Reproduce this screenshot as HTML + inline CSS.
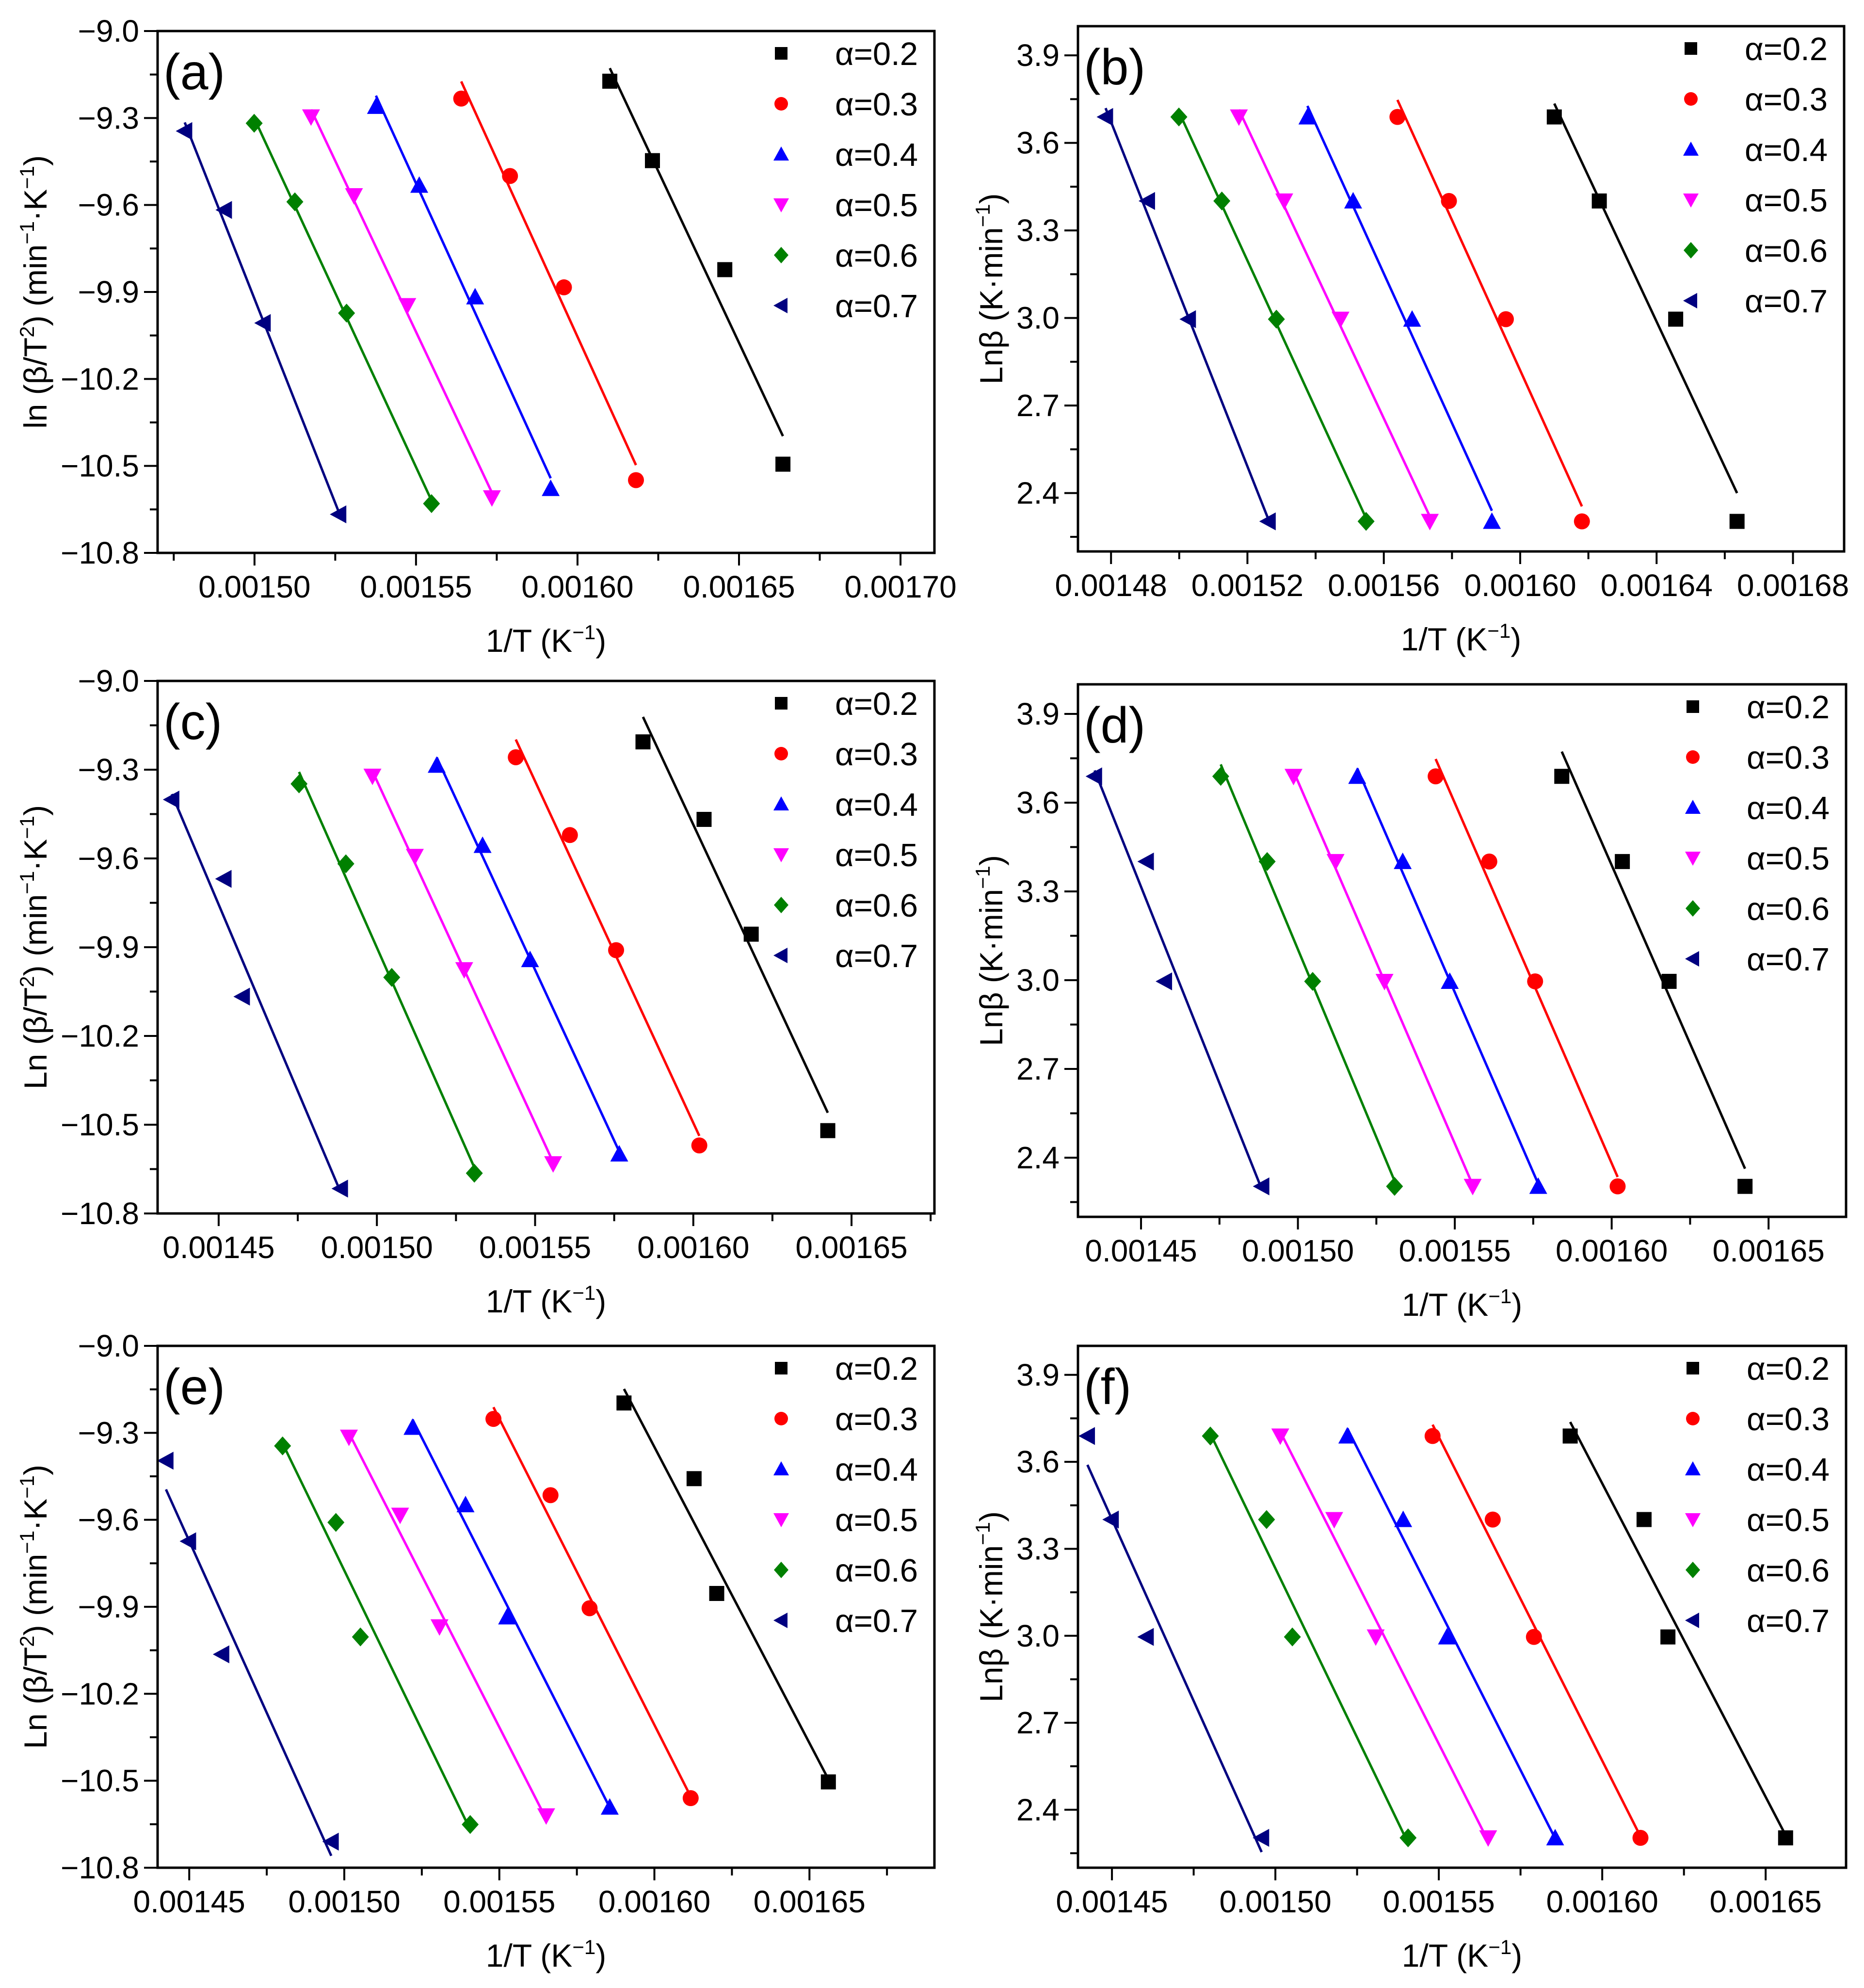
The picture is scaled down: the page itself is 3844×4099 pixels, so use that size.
<!DOCTYPE html>
<html><head><meta charset="utf-8"><title>Kinetic plots</title>
<style>
html,body{margin:0;padding:0;background:#fff;}
svg{display:block;font-family:"Liberation Sans",Arial,sans-serif;}
</style></head>
<body>
<svg id="fig" xmlns="http://www.w3.org/2000/svg" width="3844" height="4099" viewBox="0 0 3844 4099"></svg>
<script>
// ---------- data ----------
const seriesLabels = ["α=0.2","α=0.3","α=0.4","α=0.5","α=0.6","α=0.7"];
const lnBeta = [3.689, 3.401, 2.996, 2.303];
const xRow1 = [
 [0.0016100,0.0016232,0.0016456,0.0016636],
 [0.0015640,0.0015791,0.0015958,0.0016181],
 [0.0015376,0.0015510,0.0015683,0.0015917],
 [0.0015175,0.0015308,0.0015473,0.0015735],
 [0.0014999,0.0015125,0.0015285,0.0015548],
 [0.0014784,0.0014907,0.0015027,0.0015261]
];
const yPanelA = [
 [-9.173,-9.447,-9.823,-10.494],
 [-9.233,-9.500,-9.884,-10.549],
 [-9.260,-9.532,-9.917,-10.578],
 [-9.296,-9.568,-9.947,-10.610],
 [-9.318,-9.589,-9.973,-10.630],
 [-9.345,-9.617,-10.007,-10.667]
];
const xRow2 = [
 [0.0015841,0.0016034,0.0016183,0.0016425],
 [0.0015439,0.0015610,0.0015756,0.0016019],
 [0.0015189,0.0015334,0.0015484,0.0015766],
 [0.0014986,0.0015120,0.0015276,0.0015557],
 [0.0014754,0.0014902,0.0015047,0.0015308],
 [0.0014352,0.0014517,0.0014575,0.0014885]
];
const yPanelC = [
 [-9.206,-9.468,-9.856,-10.520],
 [-9.258,-9.521,-9.910,-10.570],
 [-9.285,-9.556,-9.942,-10.599],
 [-9.322,-9.593,-9.976,-10.632],
 [-9.348,-9.618,-10.002,-10.664],
 [-9.401,-9.669,-10.067,-10.716]
];
const xRow3 = [
 [0.0015902,0.0016128,0.0016201,0.0016561],
 [0.0015481,0.0015665,0.0015791,0.0016117],
 [0.0015220,0.0015391,0.0015525,0.0015856],
 [0.0015015,0.0015180,0.0015307,0.0015651],
 [0.0014801,0.0014973,0.0015052,0.0015406],
 [0.0014425,0.0014498,0.0014605,0.0014958]
];
const yPanelE = [
 [-9.197,-9.458,-9.854,-10.504],
 [-9.252,-9.515,-9.905,-10.560],
 [-9.281,-9.548,-9.935,-10.591],
 [-9.315,-9.584,-9.969,-10.621],
 [-9.345,-9.609,-10.004,-10.651],
 [-9.396,-9.674,-10.064,-10.710]
];
const yTicksLn = [-9.0,-9.3,-9.6,-9.9,-10.2,-10.5,-10.8];
const yTicksBeta = [2.4,2.7,3.0,3.3,3.6,3.9];
const xTicksA = [0.0015,0.00155,0.0016,0.00165,0.0017];
const xTicksB = [0.00148,0.00152,0.00156,0.0016,0.00164,0.00168];
const xTicksCDEF = [0.00145,0.0015,0.00155,0.0016,0.00165];

// ---------- style ----------
const colors = ["#000000","#ff0000","#0000ff","#ff00ff","#008000","#000080"];
const shapes = ["square","circle","up","down","diamond","left"];
const NS = "http://www.w3.org/2000/svg";
const svg = document.getElementById("fig");

function mk(tag, attrs, parent){
  const e = document.createElementNS(NS, tag);
  for (const k in attrs) e.setAttribute(k, attrs[k]);
  (parent||svg).appendChild(e);
  return e;
}

const panels = [
 {id:"a",L:325,R:1927,T:64,B:1140,x0:0.001470,x1:0.0017105,y0:-10.8,y1:-9.0,xt:xTicksA,xminor:2.5e-5,yt:yTicksLn,xs:xRow1,ys:yPanelA,yl:"ln",kind:"ln",ytitleOff:251},
 {id:"b",L:2223,R:3803,T:54,B:1137,x0:0.0014703,x1:0.001695,y0:2.2,y1:4.0,xt:xTicksB,xminor:2e-5,yt:yTicksBeta,xs:xRow1,ys:null,kind:"beta",ytitleOff:178},
 {id:"c",L:325,R:1927,T:1404,B:2502,x0:0.0014307,x1:0.0016762,y0:-10.8,y1:-9.0,xt:xTicksCDEF,xminor:2.5e-5,yt:yTicksLn,xs:xRow2,ys:yPanelC,yl:"Ln",kind:"ln",ytitleOff:251},
 {id:"d",L:2223,R:3807,T:1411,B:2509,x0:0.0014299,x1:0.0016747,y0:2.2,y1:4.0,xt:xTicksCDEF,xminor:2.5e-5,yt:yTicksBeta,xs:xRow2,ys:null,kind:"beta",ytitleOff:178},
 {id:"e",L:325,R:1927,T:2775,B:3851,x0:0.0014398,x1:0.0016903,y0:-10.8,y1:-9.0,xt:xTicksCDEF,xminor:2.5e-5,yt:yTicksLn,xs:xRow3,ys:yPanelE,yl:"Ln",kind:"ln",ytitleOff:251},
 {id:"f",L:2223,R:3807,T:2775,B:3851,x0:0.0014396,x1:0.0016746,y0:2.2,y1:4.0,xt:xTicksCDEF,xminor:2.5e-5,yt:yTicksBeta,xs:xRow3,ys:null,kind:"beta",ytitleOff:178}
];

function marker(g, shape, cx, cy, s, color){
  const h = s/2;
  let e;
  if (shape==="square") e = mk("rect",{x:cx-h,y:cy-h,width:s,height:s,fill:color},g);
  else if (shape==="circle") e = mk("circle",{cx:cx,cy:cy,r:h+1,fill:color},g);
  else if (shape==="up") e = mk("polygon",{points:`${cx},${cy-h-3} ${cx-h-3},${cy+h} ${cx+h+3},${cy+h}`,fill:color},g);
  else if (shape==="down") e = mk("polygon",{points:`${cx},${cy+h+3} ${cx-h-3},${cy-h} ${cx+h+3},${cy-h}`,fill:color},g);
  else if (shape==="diamond") e = mk("polygon",{points:`${cx},${cy-h-4} ${cx+h+2},${cy} ${cx},${cy+h+4} ${cx-h-2},${cy}`,fill:color},g);
  else e = mk("polygon",{points:`${cx-h-3},${cy} ${cx+h},${cy-h-3} ${cx+h},${cy+h+3}`,fill:color},g);
  return e;
}

function fmtY(v, kind){
  const s = kind==="ln" ? Math.abs(v).toFixed(1) : v.toFixed(1);
  return v<0 ? "\u2212"+s : s;
}

panels.forEach(p=>{
  const g = mk("g",{});
  
  
  const sx = v => p.L + (v-p.x0)/(p.x1-p.x0)*(p.R-p.L);
  const sy = v => p.B - (v-p.y0)/(p.y1-p.y0)*(p.B-p.T);

  const yMinor = 0.15;
  for (let v = Math.ceil(p.y0/yMinor-1e-6)*yMinor; v <= p.y1+1e-9; v += yMinor){
    const y = sy(v);
    const major = p.yt.some(t=>Math.abs(t-v)<1e-6);
    const t = mk("line",{x1:p.L-(major?28:16),x2:p.L,y1:y,y2:y,stroke:"#000","stroke-width":4},g);
    
    
  }
  p.yt.forEach(v=>{
    const t = mk("text",{x:p.L-38,y:sy(v)+22,"font-size":64,"text-anchor":"end",fill:"#000"},g);
    t.textContent = fmtY(v,p.kind);
    
    
  });
  for (let v = Math.ceil(p.x0/p.xminor-1e-6)*p.xminor; v <= p.x1+1e-12; v += p.xminor){
    const x = sx(v);
    const major = p.xt.some(t=>Math.abs(t-v)<1e-9);
    const t = mk("line",{x1:x,x2:x,y1:p.B,y2:p.B+(major?26:16),stroke:"#000","stroke-width":4},g);
    
    
  }
  p.xt.forEach(v=>{
    const t = mk("text",{x:sx(v),y:p.B+92,"font-size":64,"text-anchor":"middle",fill:"#000"},g);
    t.textContent = v.toFixed(5);
    
    
  });
  const xt = mk("text",{x:(p.L+p.R)/2,y:p.B+204,"font-size":66,"text-anchor":"middle",fill:"#000"},g);
  xt.innerHTML = '1/T (K<tspan dy="-26" font-size="42">\u22121</tspan><tspan dy="26">)</tspan>';
  
  
  const cx = p.L - p.ytitleOff, cy = (p.T+p.B)/2;
  const yt = mk("text",{x:cx,y:cy,"font-size":66,"text-anchor":"middle",fill:"#000",transform:`rotate(-90 ${cx} ${cy}) translate(0 22)`},g);
  if (p.kind==="ln") yt.innerHTML = p.yl+' (\u03b2/T<tspan dy="-26" font-size="42">2</tspan><tspan dy="26">) (min</tspan><tspan dy="-26" font-size="42">\u22121</tspan><tspan dy="26">\u00b7K</tspan><tspan dy="-26" font-size="42">\u22121</tspan><tspan dy="26">)</tspan>';
  else yt.innerHTML = 'Ln\u03b2 (K\u00b7min<tspan dy="-26" font-size="42">\u22121</tspan><tspan dy="26">)</tspan>';
  
  

  p.xs.forEach((xsArr, i)=>{
    const ysArr = p.ys ? p.ys[i] : lnBeta;
    const sg = mk("g",{},g);
    
    
    const n = xsArr.length;
    let mx=0,my=0; for(let k=0;k<n;k++){mx+=xsArr[k];my+=ysArr[k];} mx/=n; my/=n;
    let num=0,den=0; for(let k=0;k<n;k++){num+=(xsArr[k]-mx)*(ysArr[k]-my);den+=(xsArr[k]-mx)**2;}
    const slope=num/den, icpt=my-slope*mx;
    const xa=Math.min(...xsArr), xb=Math.max(...xsArr);
    const ln = mk("line",{x1:sx(xa),y1:sy(slope*xa+icpt),x2:sx(xb),y2:sy(slope*xb+icpt),stroke:colors[i],"stroke-width":5},sg);
    
    
    for(let k=0;k<n;k++){
      const m = marker(sg, shapes[i], sx(xsArr[k]), sy(ysArr[k]), 31, colors[i]);
      
      
    }
  });

  const fr = mk("rect",{x:p.L,y:p.T,width:p.R-p.L,height:p.B-p.T,fill:"none",stroke:"#000","stroke-width":5},g);
  
  

  const pl = mk("text",{x:p.L+12,y:p.T+120,"font-size":104,fill:"#000"},g);
  pl.textContent = "("+p.id+")";
  
  

  const lg = mk("g",{},g);
  
  
  seriesLabels.forEach((lab,i)=>{
    const yy = p.T + 46 + i*104;
    const eg = mk("g",{},lg);
    
    
    marker(eg, shapes[i], p.R-316, yy, 26, colors[i]);
    const t = mk("text",{x:p.R-205,y:yy+24,"font-size":67,fill:"#000"},eg);
    t.textContent = lab;
  });
});
</script>
</body></html>
